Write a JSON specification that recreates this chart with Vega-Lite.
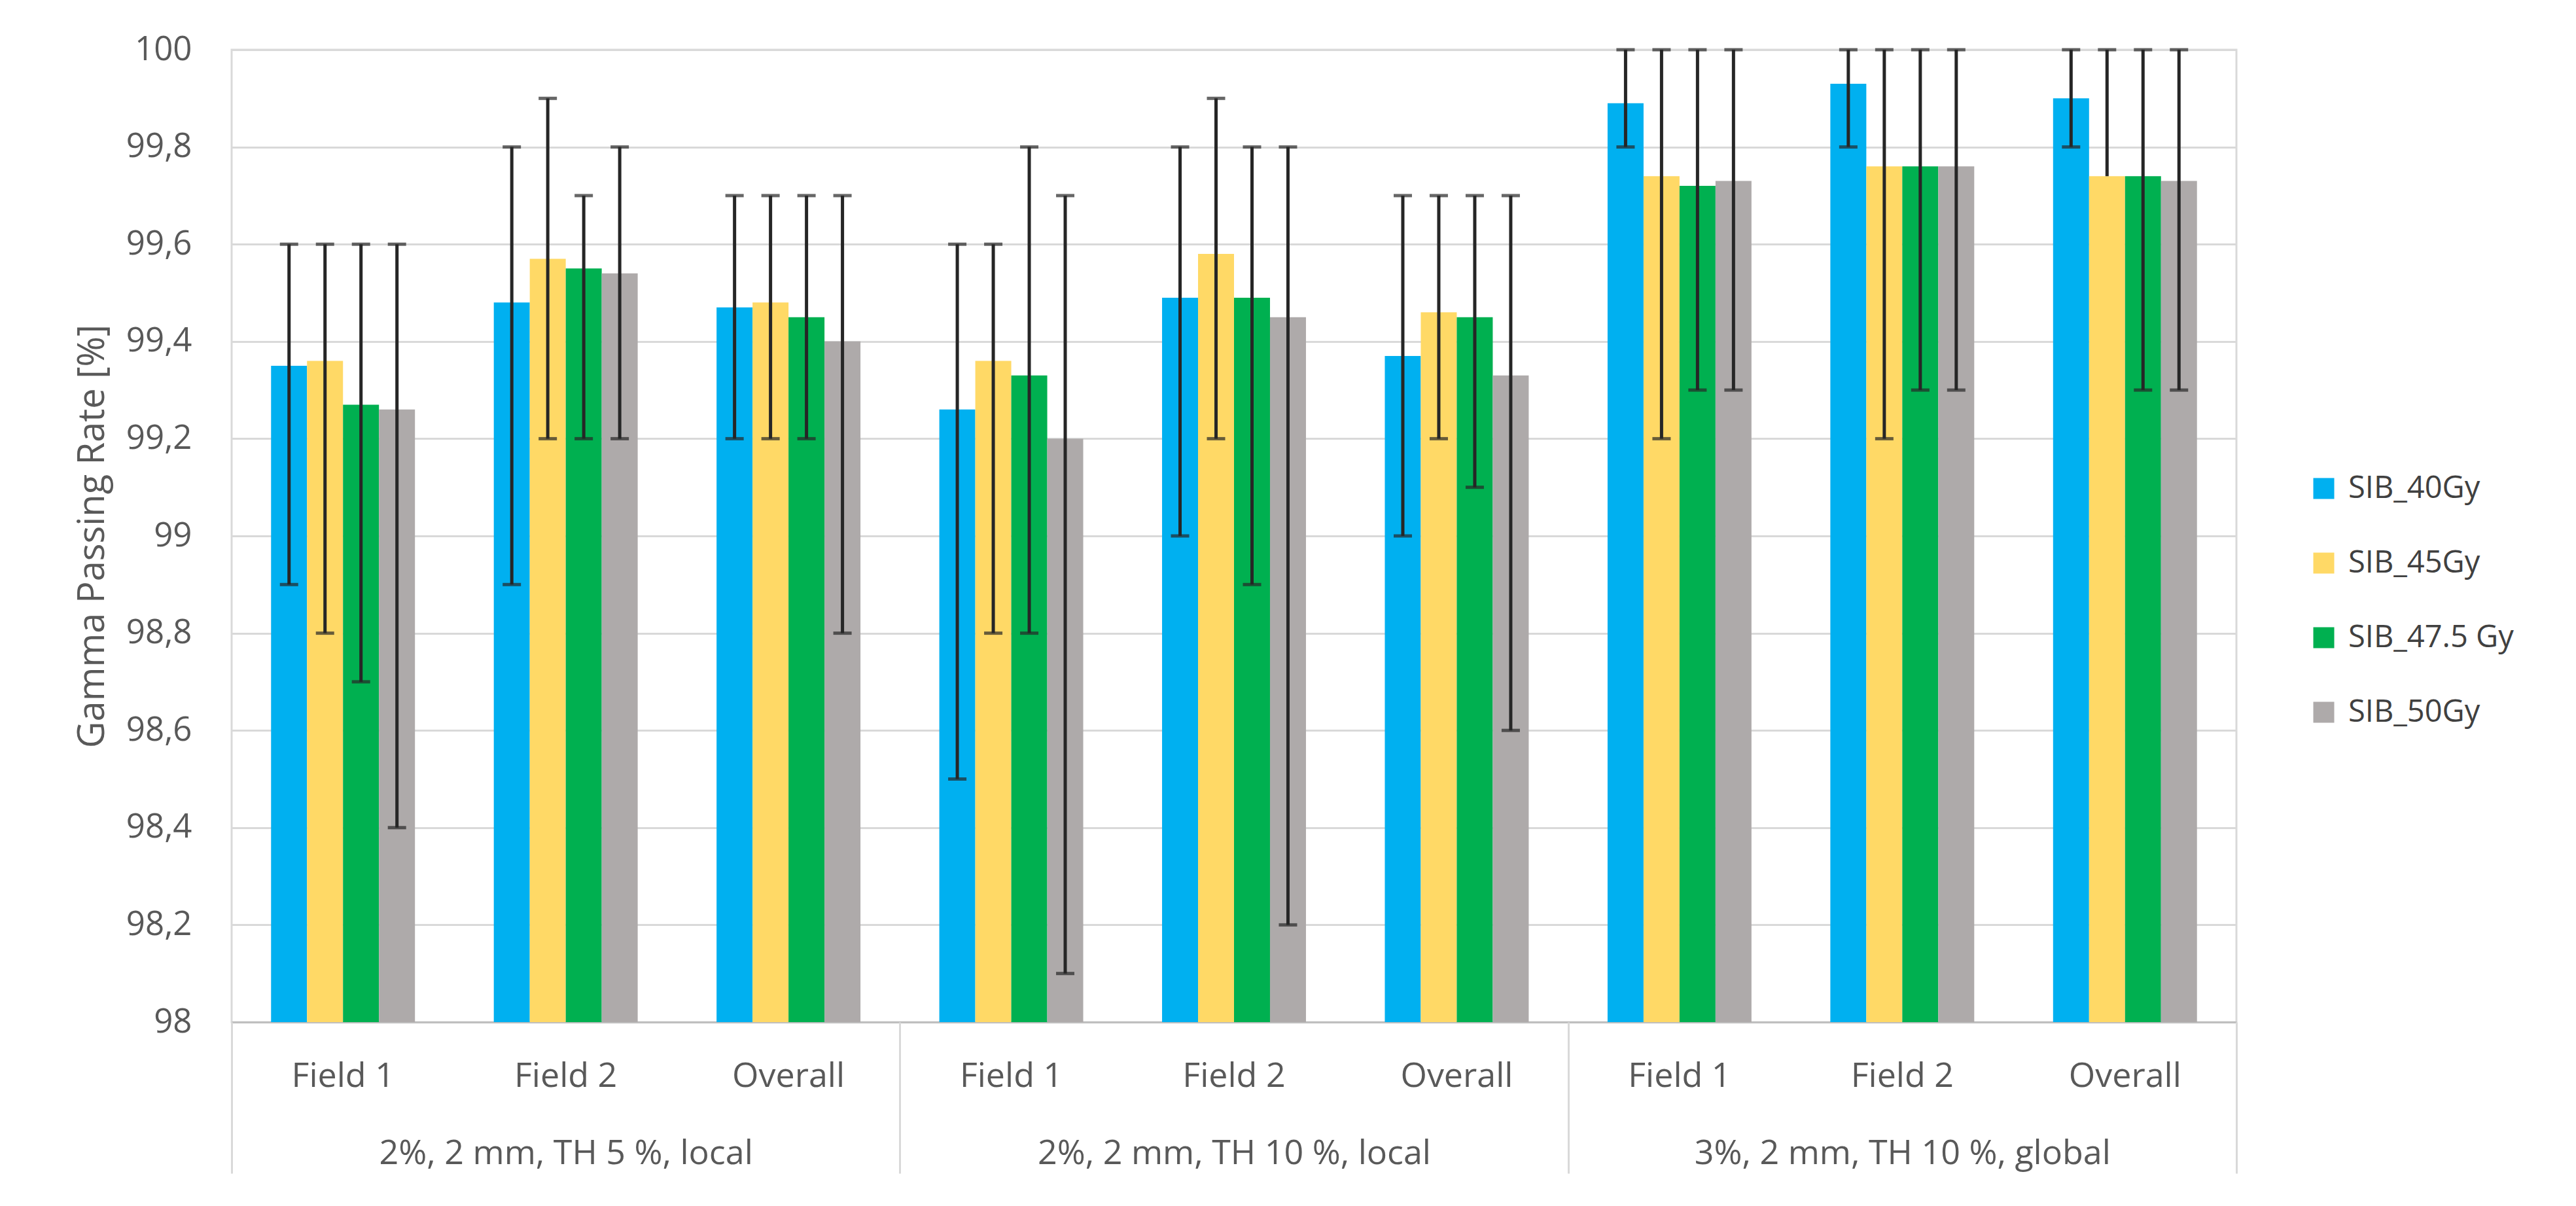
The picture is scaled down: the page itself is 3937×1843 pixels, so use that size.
{
  "$schema": "https://vega.github.io/schema/vega-lite/v6.json",
  "width": 3064,
  "height": 1486,
  "autosize": {"type": "none"},
  "padding": {"left": 354, "top": 76, "right": 519, "bottom": 281},
  "background": "white",
  "config": {
    "view": {"stroke": "#D9D9D9", "strokeWidth": 3},
    "font": "Open Sans"
  },
  "data": {
    "values": [
      {"g": "2%, 2 mm, TH 5 %, local", "cat": "1|Field 1", "s": "SIB_40Gy", "v": 99.35, "lo": 98.9, "hi": 99.6},
      {"g": "2%, 2 mm, TH 5 %, local", "cat": "1|Field 1", "s": "SIB_45Gy", "v": 99.36, "lo": 98.8, "hi": 99.6},
      {"g": "2%, 2 mm, TH 5 %, local", "cat": "1|Field 1", "s": "SIB_47.5 Gy", "v": 99.27, "lo": 98.7, "hi": 99.6},
      {"g": "2%, 2 mm, TH 5 %, local", "cat": "1|Field 1", "s": "SIB_50Gy", "v": 99.26, "lo": 98.4, "hi": 99.6},
      {"g": "2%, 2 mm, TH 5 %, local", "cat": "1|Field 2", "s": "SIB_40Gy", "v": 99.48, "lo": 98.9, "hi": 99.8},
      {"g": "2%, 2 mm, TH 5 %, local", "cat": "1|Field 2", "s": "SIB_45Gy", "v": 99.57, "lo": 99.2, "hi": 99.9},
      {"g": "2%, 2 mm, TH 5 %, local", "cat": "1|Field 2", "s": "SIB_47.5 Gy", "v": 99.55, "lo": 99.2, "hi": 99.7},
      {"g": "2%, 2 mm, TH 5 %, local", "cat": "1|Field 2", "s": "SIB_50Gy", "v": 99.54, "lo": 99.2, "hi": 99.8},
      {"g": "2%, 2 mm, TH 5 %, local", "cat": "1|Overall", "s": "SIB_40Gy", "v": 99.47, "lo": 99.2, "hi": 99.7},
      {"g": "2%, 2 mm, TH 5 %, local", "cat": "1|Overall", "s": "SIB_45Gy", "v": 99.48, "lo": 99.2, "hi": 99.7},
      {"g": "2%, 2 mm, TH 5 %, local", "cat": "1|Overall", "s": "SIB_47.5 Gy", "v": 99.45, "lo": 99.2, "hi": 99.7},
      {"g": "2%, 2 mm, TH 5 %, local", "cat": "1|Overall", "s": "SIB_50Gy", "v": 99.40, "lo": 98.8, "hi": 99.7},
      {"g": "2%, 2 mm, TH 10 %, local", "cat": "2|Field 1", "s": "SIB_40Gy", "v": 99.26, "lo": 98.5, "hi": 99.6},
      {"g": "2%, 2 mm, TH 10 %, local", "cat": "2|Field 1", "s": "SIB_45Gy", "v": 99.36, "lo": 98.8, "hi": 99.6},
      {"g": "2%, 2 mm, TH 10 %, local", "cat": "2|Field 1", "s": "SIB_47.5 Gy", "v": 99.33, "lo": 98.8, "hi": 99.8},
      {"g": "2%, 2 mm, TH 10 %, local", "cat": "2|Field 1", "s": "SIB_50Gy", "v": 99.20, "lo": 98.1, "hi": 99.7},
      {"g": "2%, 2 mm, TH 10 %, local", "cat": "2|Field 2", "s": "SIB_40Gy", "v": 99.49, "lo": 99.0, "hi": 99.8},
      {"g": "2%, 2 mm, TH 10 %, local", "cat": "2|Field 2", "s": "SIB_45Gy", "v": 99.58, "lo": 99.2, "hi": 99.9},
      {"g": "2%, 2 mm, TH 10 %, local", "cat": "2|Field 2", "s": "SIB_47.5 Gy", "v": 99.49, "lo": 98.9, "hi": 99.8},
      {"g": "2%, 2 mm, TH 10 %, local", "cat": "2|Field 2", "s": "SIB_50Gy", "v": 99.45, "lo": 98.2, "hi": 99.8},
      {"g": "2%, 2 mm, TH 10 %, local", "cat": "2|Overall", "s": "SIB_40Gy", "v": 99.37, "lo": 99.0, "hi": 99.7},
      {"g": "2%, 2 mm, TH 10 %, local", "cat": "2|Overall", "s": "SIB_45Gy", "v": 99.46, "lo": 99.2, "hi": 99.7},
      {"g": "2%, 2 mm, TH 10 %, local", "cat": "2|Overall", "s": "SIB_47.5 Gy", "v": 99.45, "lo": 99.1, "hi": 99.7},
      {"g": "2%, 2 mm, TH 10 %, local", "cat": "2|Overall", "s": "SIB_50Gy", "v": 99.33, "lo": 98.6, "hi": 99.7},
      {"g": "3%, 2 mm, TH 10 %, global", "cat": "3|Field 1", "s": "SIB_40Gy", "v": 99.89, "lo": 99.8, "hi": 100},
      {"g": "3%, 2 mm, TH 10 %, global", "cat": "3|Field 1", "s": "SIB_45Gy", "v": 99.74, "lo": 99.2, "hi": 100},
      {"g": "3%, 2 mm, TH 10 %, global", "cat": "3|Field 1", "s": "SIB_47.5 Gy", "v": 99.72, "lo": 99.3, "hi": 100},
      {"g": "3%, 2 mm, TH 10 %, global", "cat": "3|Field 1", "s": "SIB_50Gy", "v": 99.73, "lo": 99.3, "hi": 100},
      {"g": "3%, 2 mm, TH 10 %, global", "cat": "3|Field 2", "s": "SIB_40Gy", "v": 99.93, "lo": 99.8, "hi": 100},
      {"g": "3%, 2 mm, TH 10 %, global", "cat": "3|Field 2", "s": "SIB_45Gy", "v": 99.76, "lo": 99.2, "hi": 100},
      {"g": "3%, 2 mm, TH 10 %, global", "cat": "3|Field 2", "s": "SIB_47.5 Gy", "v": 99.76, "lo": 99.3, "hi": 100},
      {"g": "3%, 2 mm, TH 10 %, global", "cat": "3|Field 2", "s": "SIB_50Gy", "v": 99.76, "lo": 99.3, "hi": 100},
      {"g": "3%, 2 mm, TH 10 %, global", "cat": "3|Overall", "s": "SIB_40Gy", "v": 99.90, "lo": 99.8, "hi": 100},
      {"g": "3%, 2 mm, TH 10 %, global", "cat": "3|Overall", "s": "SIB_45Gy", "v": 99.74, "lo": 99.74, "hi": 100},
      {"g": "3%, 2 mm, TH 10 %, global", "cat": "3|Overall", "s": "SIB_47.5 Gy", "v": 99.74, "lo": 99.3, "hi": 100},
      {"g": "3%, 2 mm, TH 10 %, global", "cat": "3|Overall", "s": "SIB_50Gy", "v": 99.73, "lo": 99.3, "hi": 100}
    ]
  },
  "resolve": {"scale": {"x": "independent"}, "axis": {"x": "independent"}},
  "layer": [
    {
      "encoding": {
        "x": {
          "field": "cat",
          "type": "nominal",
          "sort": null,
          "scale": {"type": "band", "paddingInner": 0.354, "paddingOuter": 0.177},
          "axis": {
            "orient": "bottom",
            "title": null,
            "labelExpr": "split(datum.label, '|')[1]",
            "labelAngle": 0,
            "labelFont": "Open Sans",
            "labelFontSize": 52,
            "labelColor": "#595959",
            "labelPadding": 82,
            "labelBaseline": "middle",
            "ticks": false,
            "grid": false,
            "domainColor": "#BFBFBF",
            "domainWidth": 3
          }
        },
        "xOffset": {
          "field": "s",
          "type": "nominal",
          "scale": {"paddingInner": 0, "paddingOuter": 0}
        }
      },
      "layer": [
        {
          "mark": {"type": "bar"},
          "encoding": {
            "y": {
              "field": "v",
              "type": "quantitative",
              "title": "Gamma Passing Rate [%]",
              "scale": {"domain": [98, 100], "zero": false, "nice": false},
              "axis": {
                "values": [98, 98.2, 98.4, 98.6, 98.8, 99, 99.2, 99.4, 99.6, 99.8, 100],
                "labelExpr": "abs(datum.value - round(datum.value)) < 0.001 ? format(datum.value, 'd') : replace(format(datum.value, '.1f'), '.', ',')",
                "ticks": false,
                "domain": false,
                "grid": true,
                "gridColor": "#D9D9D9",
                "gridWidth": 3,
                "labelFont": "Open Sans",
                "labelFontSize": 51,
                "labelColor": "#595959",
                "labelPadding": 61,
                "titleFont": "Open Sans",
                "titleFontSize": 56,
                "titleFontWeight": "normal",
                "titleColor": "#595959",
                "titlePadding": 22
              }
            },
            "y2": {"datum": 98},
            "color": {
              "field": "s",
              "type": "nominal",
              "scale": {
                "domain": ["SIB_40Gy", "SIB_45Gy", "SIB_47.5 Gy", "SIB_50Gy"],
                "range": ["#00B0F0", "#FFD966", "#00B050", "#AEAAAA"]
              },
              "legend": {
                "title": null,
                "orient": "none",
                "legendX": 3174,
                "legendY": 647,
                "symbolType": "square",
                "symbolSize": 1024,
                "symbolStrokeWidth": 0,
                "symbolOpacity": 1,
                "labelFont": "Open Sans",
                "labelFontSize": 47,
                "labelColor": "#404040",
                "labelOffset": 14,
                "rowPadding": 66,
                "labelLimit": 600
              }
            }
          }
        },
        {
          "mark": {"type": "rule", "color": "#262626", "strokeWidth": 5},
          "encoding": {
            "y": {"field": "lo", "type": "quantitative", "title": "Gamma Passing Rate [%]"},
            "y2": {"field": "hi"}
          }
        },
        {
          "mark": {"type": "tick", "color": "#262626", "thickness": 5, "size": 28},
          "encoding": {
            "y": {"field": "hi", "type": "quantitative", "title": "Gamma Passing Rate [%]"}
          }
        },
        {
          "transform": [{"filter": "datum.lo < datum.v"}],
          "mark": {"type": "tick", "color": "#262626", "thickness": 5, "size": 28},
          "encoding": {
            "y": {"field": "lo", "type": "quantitative", "title": "Gamma Passing Rate [%]"}
          }
        }
      ]
    },
    {
      "mark": {"type": "point", "opacity": 0},
      "encoding": {
        "x": {
          "field": "g",
          "type": "nominal",
          "sort": null,
          "scale": {"type": "band", "paddingInner": 0, "paddingOuter": 0},
          "axis": {
            "orient": "bottom",
            "title": null,
            "labelAngle": 0,
            "domain": false,
            "grid": false,
            "ticks": true,
            "tickBand": "extent",
            "tickSize": 231,
            "tickColor": "#D9D9D9",
            "tickWidth": 3,
            "labelPadding": -31,
            "labelBaseline": "middle",
            "labelFont": "Open Sans",
            "labelFontSize": 52,
            "labelColor": "#595959",
            "labelLimit": 1000
          }
        }
      }
    }
  ]
}
